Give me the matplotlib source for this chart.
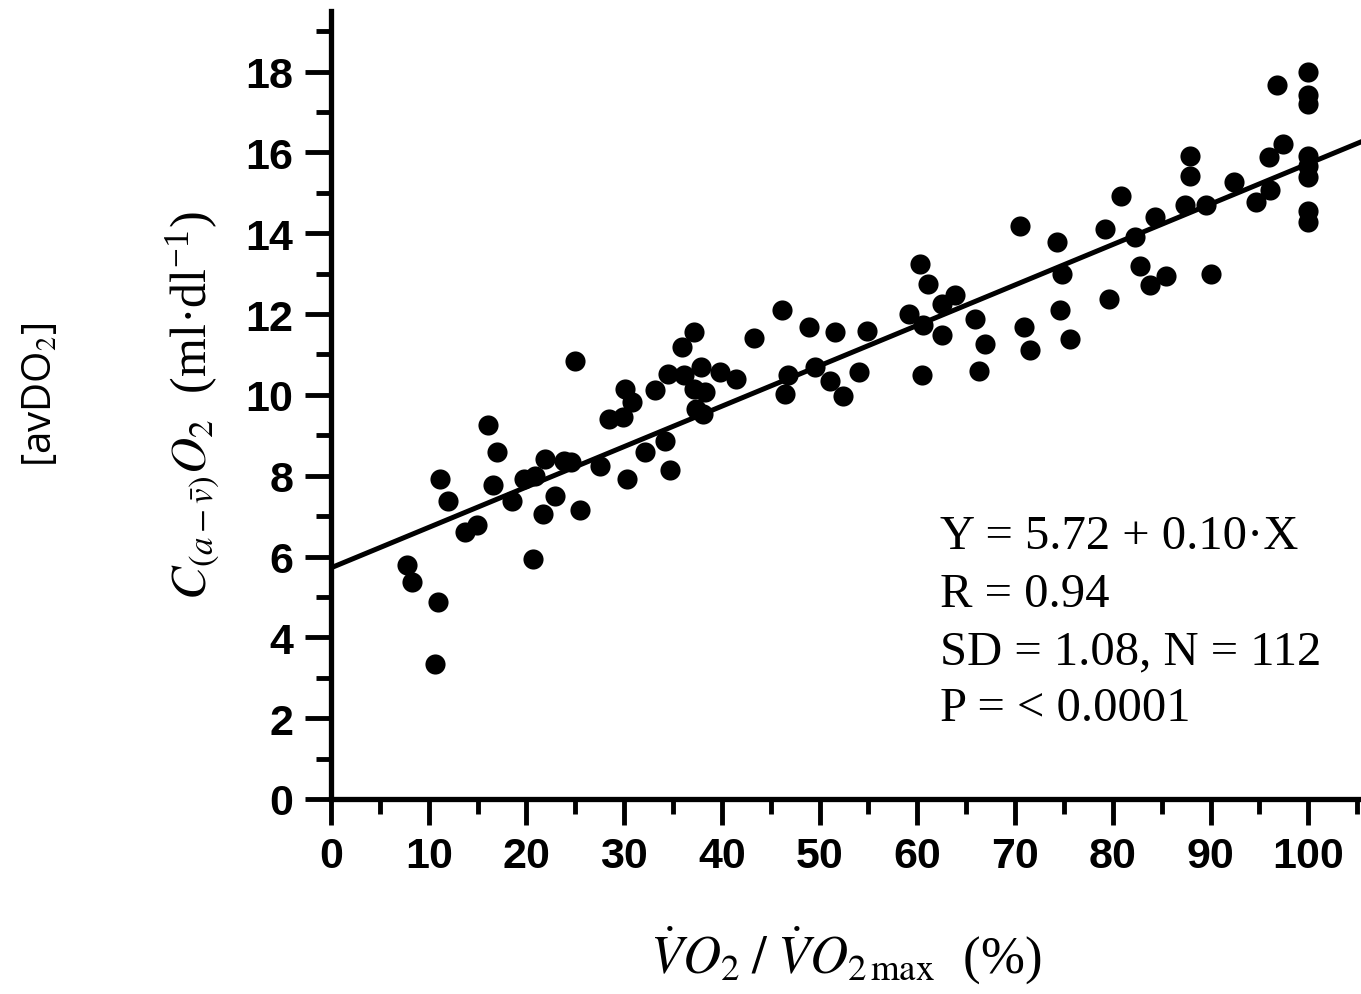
import numpy as np
import matplotlib.pyplot as plt
from matplotlib.ticker import MultipleLocator

# percent of VO2max
x_pct = [7.8, 8.3, 11.0, 10.6, 11.2, 12.0, 13.7, 14.9, 16.1, 17.0,
         16.6, 18.5, 19.7, 20.9, 20.7, 21.9, 21.7, 22.9, 23.8, 24.6,
         25.0, 25.5, 27.5, 28.4, 30.1, 30.8, 29.9, 30.3, 32.1, 33.2,
         34.2, 34.7, 34.5, 35.9, 37.1, 36.1, 37.9, 37.1, 38.3, 37.3,
         38.1, 39.8, 41.4, 43.3, 46.1, 46.8, 46.5, 48.9, 49.5, 51.1,
         51.6, 52.4, 54.0, 54.8, 60.3, 61.1, 59.1, 60.6, 60.5, 62.5,
         63.9, 62.5, 65.9, 66.9, 66.3, 70.5, 70.9, 71.5, 74.3, 74.8,
         74.6, 75.6, 79.6, 79.2, 80.8, 82.3, 82.8, 83.8, 84.3, 85.4,
         87.4, 87.9, 87.9, 89.5, 90.0, 92.4, 94.7, 96.1, 96.0, 97.4,
         96.8, 100.0, 100.0, 100.0, 100.0, 100.0, 100.0, 100.0, 100.0]
# arteriovenous O2 difference
y_avdo2 = [5.78, 5.36, 4.87, 3.34, 7.92, 7.38, 6.60, 6.78, 9.26, 8.58,
           7.76, 7.38, 7.92, 8.00, 5.94, 8.42, 7.05, 7.49, 8.37, 8.33,
           10.85, 7.16, 8.25, 9.41, 10.15, 9.82, 9.45, 7.92, 8.58, 10.11,
           8.87, 8.13, 10.52, 11.18, 11.55, 10.48, 10.69, 10.15, 10.06, 9.65,
           9.53, 10.56, 10.40, 11.41, 12.09, 10.48, 10.02, 11.67, 10.69, 10.35,
           11.55, 9.98, 10.56, 11.59, 13.24, 12.75, 12.00, 11.72, 10.48, 12.25,
           12.46, 11.47, 11.88, 11.26, 10.60, 14.19, 11.67, 11.10, 13.78, 13.00,
           12.09, 11.39, 12.38, 14.11, 14.93, 13.90, 13.20, 12.71, 14.40, 12.95,
           14.69, 15.92, 15.42, 14.69, 13.00, 15.26, 14.77, 15.06, 15.88, 16.21,
           17.66, 17.99, 17.41, 17.20, 15.92, 15.67, 15.39, 14.56, 14.27]

fit_intercept = 5.72
fit_slope = 0.10
stats_lines = ["Y = 5.72 + 0.10·X", "R = 0.94", "SD = 1.08, N = 112", "P = < 0.0001"]

plt.rcParams['mathtext.fontset'] = 'stix'

fig = plt.figure(figsize=(13.61, 9.95), dpi=100)
ax = fig.add_axes([0.2432, 0.196, 0.7568, 0.792])

xmax = 105.4
ax.scatter(x_pct, y_avdo2, s=210, color='black', zorder=3, linewidths=0)
xs = np.array([0, xmax])
ax.plot(xs, fit_intercept + fit_slope * xs, color='black', lw=3.6, zorder=2)

ax.set_xlim(0, xmax)
ax.set_ylim(0, 19.5)
for s in ['top', 'right']:
    ax.spines[s].set_visible(False)
for s in ['left', 'bottom']:
    ax.spines[s].set_linewidth(3.8)

ax.xaxis.set_major_locator(MultipleLocator(10))
ax.xaxis.set_minor_locator(MultipleLocator(5))
ax.yaxis.set_major_locator(MultipleLocator(2))
ax.yaxis.set_minor_locator(MultipleLocator(1))
ax.tick_params(which='major', length=19, width=3.5, pad=8)
ax.tick_params(which='minor', length=11, width=3.5)

for lab in ax.get_xticklabels() + ax.get_yticklabels():
    lab.set_fontfamily('Liberation Sans')
    lab.set_fontweight('bold')
    lab.set_fontsize(31)

for i, line in enumerate(stats_lines):
    ax.text(62.3, 6.5 - i * 1.42, line, fontsize=35, family='Liberation Serif',
            va='center', ha='left')

ax.set_xlabel(r'$\dot{V}O_2\;/\;\dot{V}O_{2\,\mathrm{max}}$  (%)',
              fontsize=38, family='Liberation Serif', labelpad=34)
ax.set_ylabel(r'$C_{(a-\bar{v})}O_2$  (ml·dl$^{\mathregular{-1}}$)',
              fontsize=36, family='Liberation Serif', labelpad=16)

fig.text(0.03, 0.603, r'[avDO$_2$]', rotation=90, fontsize=29,
         family='Open Sans', ha='center', va='center')

fig.savefig('out.png', dpi=100)
